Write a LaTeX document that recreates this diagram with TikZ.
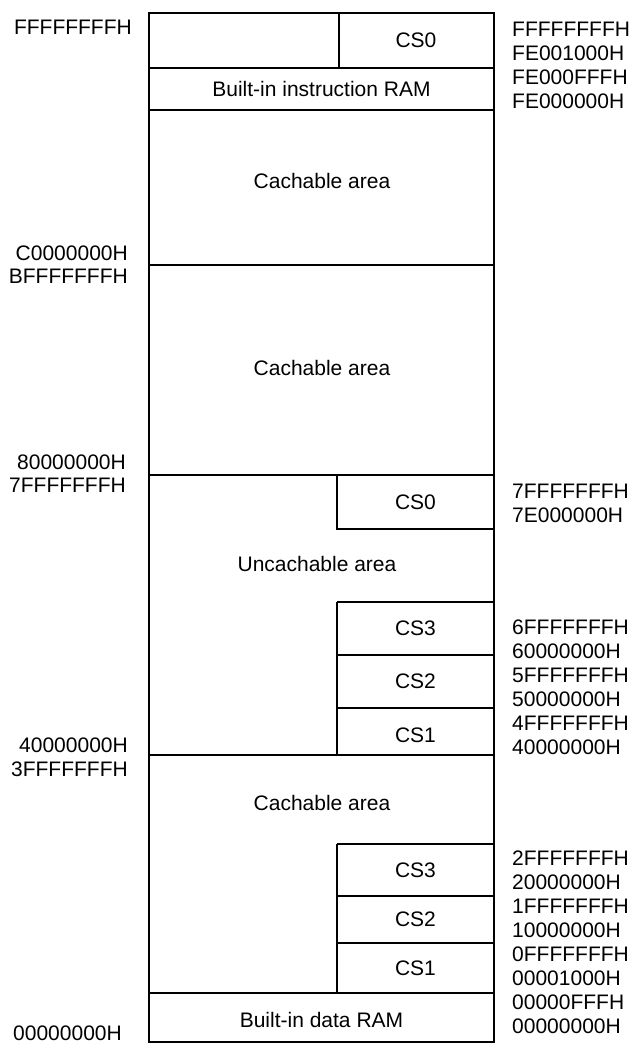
\documentclass[tikz,border=0pt]{standalone}
\usepackage{fontspec}
\setmainfont{Liberation Sans}
\begin{document}
\begin{tikzpicture}[x=1pt,y=-1pt,
  txt/.style={font=\fontsize{21}{24}\selectfont, inner sep=0pt},
  leftlbl/.style={txt, anchor=east},
  rightlbl/.style={txt, anchor=west},
  thinline/.style={line width=1.2pt, black},
  border/.style={line width=2.2pt, black}]
\useasboundingbox (0,0) rectangle (635,1044);
% inner divisions
\draw[thinline] (149,68) -- (494,68);
\draw[thinline] (149,110) -- (494,110);
\draw[thinline] (149,265) -- (494,265);
\draw[thinline] (149,475) -- (494,475);
\draw[thinline] (149,755) -- (494,755);
\draw[thinline] (149,993) -- (494,993);
\draw[thinline] (339,13) -- (339,68);
% upper CS0 in uncachable area
\draw[thinline] (337,475) -- (337,529) -- (494,529);
% upper CS3..CS1
\draw[thinline] (337,602) -- (494,602);
\draw[thinline] (337,655) -- (494,655);
\draw[thinline] (337,708) -- (494,708);
\draw[thinline] (337,602) -- (337,755);
% lower CS3..CS1
\draw[thinline] (337,844) -- (494,844);
\draw[thinline] (337,896) -- (494,896);
\draw[thinline] (337,943) -- (494,943);
\draw[thinline] (337,844) -- (337,993);
% outer border
\draw[border] (149,13) rectangle (494,1042);
% texts inside
\node[txt] (cs0a) at (416,40.5) {CS0};
\node[txt] (iram) at (321.5,89) {Built-in instruction RAM};
\node[txt] (cach1) at (322,181) {Cachable area};
\node[txt] (cach2) at (322,368) {Cachable area};
\node[txt] (cs0b) at (415.5,502) {CS0};
\node[txt] (uncach) at (317,564) {Uncachable area};
\node[txt] (cs3a) at (415.5,628) {CS3};
\node[txt] (cs2a) at (415.5,681) {CS2};
\node[txt] (cs1a) at (415.5,735) {CS1};
\node[txt] (cach3) at (322,803) {Cachable area};
\node[txt] (cs3b) at (415.5,870) {CS3};
\node[txt] (cs2b) at (415.5,919) {CS2};
\node[txt] (cs1b) at (415.5,968) {CS1};
\node[txt] (dram) at (321.5,1020) {Built-in data RAM};
% left labels
\node[leftlbl] (l1) at (132,27.5) {FFFFFFFFH};
\node[leftlbl] (l2) at (128,253) {C0000000H};
\node[leftlbl] (l3) at (128,276) {BFFFFFFFH};
\node[leftlbl] (l4) at (126,462) {80000000H};
\node[leftlbl] (l5) at (126,485) {7FFFFFFFH};
\node[leftlbl] (l6) at (128,745) {40000000H};
\node[leftlbl] (l7) at (128,769) {3FFFFFFFH};
\node[leftlbl] (l8) at (122,1033) {00000000H};
% right labels
\node[rightlbl] (r1) at (512,29) {FFFFFFFFH};
\node[rightlbl] (r2) at (512,53) {FE001000H};
\node[rightlbl] (r3) at (512,77) {FE000FFFH};
\node[rightlbl] (r4) at (512,101) {FE000000H};
\node[rightlbl] (r5) at (512,491) {7FFFFFFFH};
\node[rightlbl] (r6) at (512,515) {7E000000H};
\node[rightlbl] (r7) at (512,627) {6FFFFFFFH};
\node[rightlbl] (r8) at (512,651) {60000000H};
\node[rightlbl] (r9) at (512,675) {5FFFFFFFH};
\node[rightlbl] (r10) at (512,699) {50000000H};
\node[rightlbl] (r11) at (512,723) {4FFFFFFFH};
\node[rightlbl] (r12) at (512,747) {40000000H};
\node[rightlbl] (r13) at (512,858) {2FFFFFFFH};
\node[rightlbl] (r14) at (512,882) {20000000H};
\node[rightlbl] (r15) at (512,906) {1FFFFFFFH};
\node[rightlbl] (r16) at (512,930) {10000000H};
\node[rightlbl] (r17) at (512,954) {0FFFFFFFH};
\node[rightlbl] (r18) at (512,978) {00001000H};
\node[rightlbl] (r19) at (512,1002) {00000FFFH};
\node[rightlbl] (r20) at (512,1026) {00000000H};
\end{tikzpicture}
\end{document}
